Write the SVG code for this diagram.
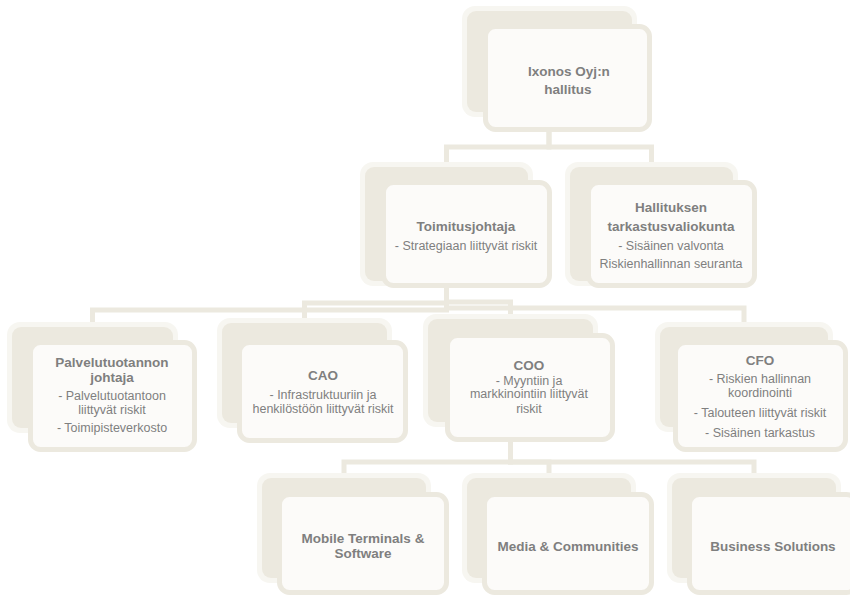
<svg xmlns="http://www.w3.org/2000/svg" width="850" height="595" viewBox="0 0 850 595">
<style>
.halo{fill:#F7F6F1}
.back{fill:#ECE9DF}
.front{fill:#FCFBF9;stroke:#ECE9DF;stroke-width:5}
.conn{fill:none;stroke:#ECE9DF;stroke-width:5;stroke-linejoin:miter}
text{font-family:"Liberation Sans",Arial,sans-serif;fill:#7F7F7F;text-anchor:middle}
.b{font-weight:bold;font-size:13.5px}
.r{font-size:12.5px}
</style>
<rect width="850" height="595" fill="#FFFFFF"/>
<g id="connectors">
<path class="conn" d="M549 112 V147 H446.5 V167"/>
<path class="conn" d="M549 112 V147 H651.5 V167"/>
<path class="conn" d="M446.5 281 V310 H92.5 V327"/>
<path class="conn" d="M446.5 281 V303 H304.5 V323"/>
<path class="conn" d="M446.5 281 V302 H510.5 V319"/>
<path class="conn" d="M446.5 281 V308 H744 V327"/>
<path class="conn" d="M510.5 422 V462 H344 V478"/>
<path class="conn" d="M510.5 422 V462 H549 V478"/>
<path class="conn" d="M510.5 422 V462 H754 V478"/>
</g>
<g id="hallitus">
<rect class="halo" x="462" y="6" width="175" height="111" rx="13"/>
<rect class="back" x="467" y="11" width="165" height="101" rx="9"/>
<rect class="front" x="485.5" y="26.5" width="164" height="103" rx="10"/>
<text class="b" x="569" y="76">Ixonos Oyj:n</text>
<text class="b" x="568" y="94">hallitus</text>
</g>
<g id="toimitusjohtaja">
<rect class="halo" x="360" y="162" width="173" height="124" rx="13"/>
<rect class="back" x="365" y="167" width="163" height="114" rx="9"/>
<rect class="front" x="383.5" y="182.5" width="166" height="103" rx="10"/>
<text class="b" x="466" y="230.5">Toimitusjohtaja</text>
<text class="r" x="466" y="249.5">- Strategiaan liittyvät riskit</text>
</g>
<g id="tarkastusvaliokunta">
<rect class="halo" x="565" y="162" width="173" height="124" rx="13"/>
<rect class="back" x="570" y="167" width="163" height="114" rx="9"/>
<rect class="front" x="588.5" y="182.5" width="166" height="103" rx="10"/>
<text class="b" x="671" y="211.5">Hallituksen</text>
<text class="b" x="671" y="230.5">tarkastusvaliokunta</text>
<text class="r" x="671" y="249.5">- Sisäinen valvonta</text>
<text class="r" x="671" y="267.5">Riskienhallinnan seuranta</text>
</g>
<g id="palvelutuotanto">
<rect class="halo" x="7" y="322" width="171" height="111" rx="13"/>
<rect class="back" x="12" y="327" width="161" height="101" rx="9"/>
<rect class="front" x="30.5" y="342.5" width="164" height="107" rx="10"/>
<text class="b" x="112" y="367">Palvelutuotannon</text>
<text class="b" x="112" y="382">johtaja</text>
<text class="r" x="112" y="400">- Palvelutuotantoon</text>
<text class="r" x="112" y="414">liittyvät riskit</text>
<text class="r" x="112" y="432">- Toimipisteverkosto</text>
</g>
<g id="cao">
<rect class="halo" x="217" y="318" width="175" height="110" rx="13"/>
<rect class="back" x="222" y="323" width="165" height="100" rx="9"/>
<rect class="front" x="239.5" y="342.5" width="166" height="98" rx="10"/>
<text class="b" x="323" y="380">CAO</text>
<text class="r" x="323" y="399">-  Infrastruktuuriin ja</text>
<text class="r" x="323" y="413">henkilöstöön liittyvät riskit</text>
</g>
<g id="coo">
<rect class="halo" x="423" y="314" width="175" height="113" rx="13"/>
<rect class="back" x="428" y="319" width="165" height="103" rx="9"/>
<rect class="front" x="447.5" y="335.5" width="165" height="104" rx="10"/>
<text class="b" x="529" y="369.5">COO</text>
<text class="r" x="529" y="384.5">- Myyntiin ja</text>
<text class="r" x="529" y="397.5">markkinointiin liittyvät</text>
<text class="r" x="529" y="412.5">riskit</text>
</g>
<g id="cfo">
<rect class="halo" x="655" y="322" width="178" height="110" rx="13"/>
<rect class="back" x="660" y="327" width="168" height="100" rx="9"/>
<rect class="front" x="675.5" y="342.5" width="170" height="107" rx="10"/>
<text class="b" x="760" y="364.5">CFO</text>
<text class="r" x="760" y="382.5">- Riskien hallinnan</text>
<text class="r" x="760" y="396.5">koordinointi</text>
<text class="r" x="760" y="416.5">- Talouteen liittyvät riskit</text>
<text class="r" x="760" y="436.5">- Sisäinen tarkastus</text>
</g>
<g id="mobile">
<rect class="halo" x="257" y="473" width="174" height="110" rx="13"/>
<rect class="back" x="262" y="478" width="164" height="100" rx="9"/>
<rect class="front" x="279.5" y="494.5" width="167" height="98" rx="10"/>
<text class="b" x="363" y="542.5">Mobile Terminals &amp;</text>
<text class="b" x="363" y="558">Software</text>
</g>
<g id="media">
<rect class="halo" x="462" y="473" width="174" height="110" rx="13"/>
<rect class="back" x="467" y="478" width="164" height="100" rx="9"/>
<rect class="front" x="484.5" y="494.5" width="167" height="98" rx="10"/>
<text class="b" x="568" y="550.5">Media &amp; Communities</text>
</g>
<g id="business">
<rect class="halo" x="667" y="473" width="174" height="110" rx="13"/>
<rect class="back" x="672" y="478" width="164" height="100" rx="9"/>
<rect class="front" x="689.5" y="494.5" width="167" height="98" rx="10"/>
<text class="b" x="773" y="550.5">Business Solutions</text>
</g>
</svg>
